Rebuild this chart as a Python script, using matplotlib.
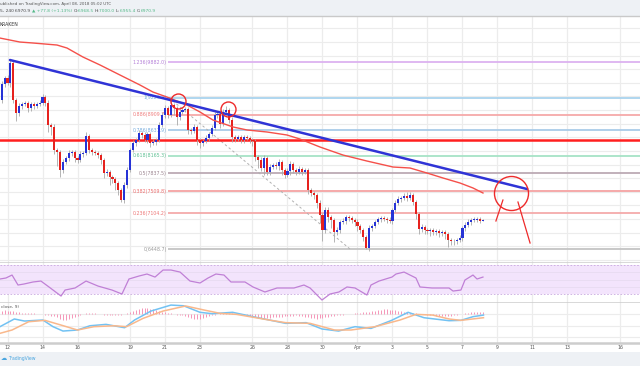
import matplotlib
matplotlib.use("Agg")
import matplotlib.pyplot as plt
import numpy as np

# ---------------- data (BTC/USD, 4H candles, Kraken) ----------------
first_bar = -2            # index of first 4H bar relative to Mar 12 00:00
first_open = 9184
closes = [9478, 9588, 9496, 9864, 9184, 8946, 9074, 9111, 9129, 9037,
          9111, 9074, 9111, 9129, 9239, 9129, 8725, 8689, 8266, 8230,
          7899, 8046, 8119, 8211, 8230, 8119, 8083, 8193, 8211, 8523,
          8266, 8230, 8211, 8174, 8083, 7844, 7862, 7771, 7734, 7660,
          7532, 7348, 7624, 7899, 8266, 8395, 8450, 8578, 8542, 8450,
          8560, 8395, 8413, 8450, 8725, 8909, 9037, 8909, 9093, 9037,
          8872, 8964, 9001, 9019, 8634, 8615, 8689, 8450, 8395, 8432,
          8487, 8560, 8670, 8909, 8927, 8744, 8964, 9001, 8817, 8505,
          8468, 8505, 8450, 8505, 8487, 8450, 8440, 8138, 8083, 7936,
          8119, 7862, 7954, 7991, 7973, 8046, 7899, 7807, 7881, 8009,
          7899, 7862, 7917, 7862, 7899, 7532, 7477, 7440, 7293, 7073,
          6797, 7165, 7036, 6981, 6761, 6797, 6944, 6963, 7036, 7018,
          6981, 6944, 6871, 6797, 6669, 6467, 6834, 6871, 6944, 6999,
          7018, 6999, 6981, 6963, 7165, 7293, 7367, 7385, 7422, 7385,
          7440, 7312, 7091, 6816, 6852, 6797, 6779, 6797, 6761, 6779,
          6742, 6761, 6724, 6614, 6595, 6590, 6614, 6650, 6834, 6889,
          6944, 6981, 6990, 6995, 6968.5, 6970.9]
wick_up = [60, 40, 50, 55, 30, 40, 50, 30, 40, 30,
           40, 30, 40, 50, 60, 30, 60, 40, 50, 40,
           30, 60, 40, 50, 40, 30, 40, 50, 40, 73,
           40, 30, 40, 30, 40, 30, 50, 40, 30, 40,
           30, 40, 60, 50, 40, 50, 40, 60, 40, 50,
           40, 30, 50, 40, 60, 50, 60, 40, 70, 40,
           30, 50, 60, 40, 30, 40, 50, 40, 30, 40,
           50, 40, 60, 50, 40, 30, 50, 70, 40, 50,
           40, 30, 40, 30, 40, 30, 40, 30, 40, 50,
           60, 40, 50, 40, 50, 60, 40, 30, 50, 60,
           40, 30, 50, 40, 30, 40, 30, 40, 30, 60,
           40, 60, 50, 40, 30, 60, 40, 50, 40, 30,
           40, 30, 50, 40, 30, 40, 50, 40, 30, 40,
           40, 30, 40, 50, 40, 60, 50, 40, 50, 70,
           60, 30, 40, 30, 50, 40, 30, 40, 30, 40,
           30, 40, 30, 40, 30, 40, 30, 50, 40, 50,
           60, 40, 50, 40, 40, 29.1]
wick_dn = [50, 60, 40, 70, 60, 150, 60, 50, 40, 80,
           50, 60, 40, 30, 40, 50, 120, 150, 80, 250,
           120, 60, 40, 50, 60, 80, 60, 40, 50, 40,
           60, 50, 40, 60, 80, 100, 60, 150, 80, 120,
           100, 40, 60, 50, 40, 30, 50, 40, 60, 40,
           50, 80, 40, 50, 30, 40, 50, 60, 40, 120,
           150, 50, 40, 30, 80, 60, 40, 100, 90, 50,
           40, 50, 40, 30, 60, 80, 40, 30, 60, 90,
           60, 40, 50, 60, 40, 50, 100, 80, 150, 60,
           120, 60, 50, 40, 60, 80, 100, 50, 40, 80,
           60, 50, 40, 60, 40, 80, 60, 70, 100, 150,
           200, 60, 100, 150, 180, 60, 50, 40, 60, 50,
           60, 80, 100, 60, 80, 20, 60, 50, 40, 30,
           50, 40, 60, 40, 50, 40, 30, 60, 40, 50,
           40, 60, 100, 90, 50, 80, 60, 100, 50, 60,
           80, 50, 100, 120, 80, 60, 50, 40, 60, 50,
           40, 50, 40, 40, 50, 13.1]

# 100-period moving average, x in days from Mar 12
ma_days = [-0.43, 0.71, 1.46, 2.83, 3.4, 4.31, 5.29, 6.43, 7.57, 8.31, 9.11,
           10.26, 11.0, 11.74, 12.89, 13.69, 14.83, 15.97, 16.71, 17.86,
           19.17, 20.54, 22.03, 23.0, 23.97, 24.89, 25.86, 26.6, 27.17]
ma_vals = [10322, 10249, 10231, 10194, 10139, 9974, 9827, 9643, 9460, 9331,
           9239, 9093, 8964, 8817, 8689, 8634, 8597, 8542, 8468, 8321, 8174,
           8064, 7954, 7936, 7844, 7752, 7660, 7569, 7477]

# bearish trend line and horizontal resistance
trend_days = [0.14, 29.69]
trend_vals = [9919, 7550]
resistance = 8445

# Fibonacci retracement
fib_ratios = [1.236, 1, 0.886, 0.786, 0.618, 0.5, 0.382, 0.236, 0]
fib_prices = [9882.0, 9226.4, 8909.7, 8631.9, 8165.3, 7837.5, 7509.8, 7104.2, 6448.7]
fib_labels = ["1.236(9882.0)", "1(9226.4)", "0.886(8909.7)", "0.786(8631.9)",
              "0.618(8165.3)", "0.5(7837.5)", "0.382(7509.8)", "0.236(7104.2)",
              "0(6448.7)"]
fib_line_colors = ["#dcb2f0", "#a9d3ee", "#f6a9a9", "#a9cbe8", "#a6e3c6",
                   "#bcaab4", "#f5a3a3", "#f5aaaa", "#c4c4c4"]
fib_text_colors = ["#b580d8", "#79b4dc", "#ef7d7d", "#79aede", "#5dbf92",
                   "#9c8590", "#ee7070", "#ee7777", "#9a9a9a"]
fib_start_day = 9.17
fib_trend_days = [9.23, 19.57]
fib_trend_vals = [9226.4, 6448.7]

# annotations (circles: day, price, size) and arrows
circle_days = [9.74, 12.6, 28.77]
circle_vals = [9166, 9019, 7477]
circle_sizes = [10.8, 10.8, 24.5]
arrow1_days = [28.31, 27.91]
arrow1_vals = [7348, 6963]
arrow2_days = [29.17, 29.86]
arrow2_vals = [7311, 6559]

# RSI(14)
rsi_days = [-0.43, -0.09, 0.26, 0.6, 0.94, 1.46, 1.91, 2.37, 3.06, 3.29, 3.86,
            4.49, 5.17, 5.97, 6.54, 6.94, 7.51, 7.97, 8.43, 8.89, 9.34, 9.86,
            10.43, 11.0, 11.46, 11.91, 12.37, 12.77, 13.57, 14.03, 14.71, 15.4,
            16.37, 16.94, 17.29, 17.97, 18.43, 18.94, 19.4, 19.86, 20.54, 20.77,
            21.23, 21.97, 22.2, 22.66, 23.34, 23.57, 24.26, 25.23, 25.46, 25.91,
            26.14, 26.6, 26.83, 27.17]
rsi_vals = [50.7, 52.1, 56.2, 42.4, 43.8, 46.6, 47.9, 39.7, 27.2, 35.5, 38.3,
            47.9, 41.0, 35.5, 30.0, 50.7, 54.8, 57.6, 53.4, 63.1, 63.1, 60.3,
            47.9, 45.2, 52.1, 57.6, 56.2, 46.6, 46.6, 39.7, 32.8, 38.3,
            38.3, 42.4, 38.3, 21.7, 30.0, 32.8, 39.7, 38.3, 28.6, 42.4,
            47.9, 53.4, 57.6, 60.3, 52.1, 39.7, 38.3, 38.3, 34.1, 35.5,
            49.3, 56.2, 50.7, 53.4]

# MACD (12, 26, close, 9)
macd_days = [-0.43, 0.39, 0.97, 2.02, 2.6, 3.17, 4.0, 4.71, 5.63, 6.69, 7.26,
             8.2, 9.34, 10.06, 11.0, 11.69, 12.86, 14.03, 15.89, 17.06, 17.97,
             18.92, 19.86, 20.77, 21.95, 22.89, 23.8, 25.23, 25.91, 26.6, 27.2]
macd_vals = [-110, -43, -61, -52, -110, -148, -139, -102, -90, -119, -52,
             26, 78, 72, 15, 3, 15, -23, -81, -75, -130,
             -148, -110, -125, -55, 15, -32, -58, -55, -23, -9]
signal_days = [-0.43, 0.26, 1.21, 2.14, 3.06, 4.0, 4.94, 6.09, 6.8, 7.74, 8.89,
               10.18, 11.23, 12.14, 13.09, 14.94, 15.89, 17.29, 18.69, 19.63,
               21.0, 22.43, 23.34, 24.29, 25.23, 25.91, 27.2]
signal_vals = [-168, -139, -67, -55, -96, -139, -110, -102, -110, -38, 26,
               70, 35, 6, -3, -52, -75, -81, -139, -139,
               -110, -52, -3, -9, -43, -55, -32]
hist_vals = [30, 32, 30, 28, 25, 20, 15,
             12, 10, 8, 6, 5, 3, 2, 0,
             -5, -10, -15, -20,
             -30, -40, -48, -50, -45, -35, -25, -15,
             -5, 3, 8, 10, 8, 5, 2,
             -3, -6, -10, -12, -12, -10, -8, -5, -2,
             8, 18, 28, 38, 45, 50, 55, 52,
             45, 40, 35, 28, 22, 15, 10,
             5, 0, -5, -8, -12,
             -20, -28, -35, -40, -42, -40, -35, -28, -20, -12, -5,
             3, 8, 10, 12, 10, 7, 3,
             0, -3, -6, -10, -15,
             -20, -25, -30, -33, -35, -35, -33, -30, -28, -25, -22, -20, -18,
             -15, -13, -12, -15, -18, -22, -28, -33, -38, -40, -38, -35, -30,
             -25, -20, -15, -12, -8,
             -5, -2, 0, 2, 5,
             8, 12, 15, 18, 22, 26, 30, 34, 37, 40, 40, 38, 35, 32, 28, 24,
             20, 16, 12,
             8, 5, 2, 0, -3,
             -6, -9, -12, -14, -16, -17, -18, -17, -15, -12, -8, -4,
             2, 7, 12, 16, 19, 21, 22, 22]

tick_days = [0, 2, 4, 7, 9, 11, 14, 16, 18, 20, 22, 24, 26, 28, 30, 32, 35]
tick_labels = ["12", "14", "16", "19", "21", "23", "26", "28", "30", "Apr",
               "3", "5", "7", "9", "11", "13", "16"]

header1 = "ublished on TradingView.com, April 08, 2018 05:02 UTC"
header2 = [("5, 240 ", "#4a4a4a"), ("6970.9 ", "#4a4a4a"),
           ("\u25b2 +77.8 (+1.13%) ", "#53b987"), ("O:", "#4a4a4a"),
           ("6968.5 ", "#53b987"), ("H:", "#4a4a4a"), ("7000.0 ", "#53b987"),
           ("L:", "#4a4a4a"), ("6955.4 ", "#53b987"), ("C:", "#4a4a4a"),
           ("6970.9", "#53b987")]

# ---------------- figure ----------------
W, H = 640, 366
fig = plt.figure(figsize=(6.4, 3.66), dpi=100)
fig.patch.set_facecolor("white")

def fy(px):
    return 1 - px / H

XMIN, XMAX = -0.4286, 36.143
GRID = "#ececec"
SEP = "#cdcdcd"

ax = fig.add_axes([0, fy(263), 1, (263 - 16) / H])
ax_rsi = fig.add_axes([0, fy(303), 1, 40 / H])
ax_macd = fig.add_axes([0, fy(343), 1, 40 / H])

for a in (ax, ax_rsi, ax_macd):
    a.set_xlim(XMIN, XMAX)
    for s in ("top", "left", "right"):
        a.spines[s].set_visible(False)
    a.spines["bottom"].set_color(SEP)
    a.spines["bottom"].set_linewidth(1.8)
    a.tick_params(left=False, labelleft=False, bottom=False, labelbottom=False)
    for d in tick_days:
        a.axvline(d, color=GRID, lw=0.9, zorder=0)

# ---- main price panel ----
ax.set_ylim(6191.7, 10727)
for p in np.arange(6250, 10751, 250):
    ax.axhline(p, color=GRID, lw=0.8, zorder=0)

for p, lab, lc, tc in zip(fib_prices, fib_labels, fib_line_colors, fib_text_colors):
    ax.hlines(p, fib_start_day, XMAX, color=lc, lw=1.3, zorder=1)
    ax.text(fib_start_day - 0.07, p, lab, ha="right", va="center",
            fontsize=3.4, color=tc, zorder=2)
ax.plot(fib_trend_days, fib_trend_vals, color="#b0b0b0", lw=0.7,
        ls=(0, (2.5, 2.5)), zorder=1)

ax.axhline(resistance, color="#ff1f1f", lw=1.8, zorder=2)

closes_a = np.array(closes, dtype=float)
opens_a = np.r_[first_open, closes_a[:-1]]
t = (np.arange(len(closes_a)) + first_bar) / 6.0
highs = np.maximum(opens_a, closes_a) + np.array(wick_up)
lows = np.minimum(opens_a, closes_a) - np.array(wick_dn)
up = closes_a >= opens_a
cols = np.where(up, "#2633d6", "#e6221e")
ax.vlines(t, lows, highs, color="#a8a8a8", lw=0.6, zorder=3)
body_h = np.maximum(np.abs(closes_a - opens_a), 12)
body_b = np.minimum(opens_a, closes_a)
ax.bar(t, body_h, bottom=body_b, width=0.12, color=cols, lw=0, zorder=4)

ax.plot(ma_days, ma_vals, color="#f5504a", lw=1.0, zorder=5)
ax.plot(trend_days, trend_vals, color="#2f33d6", lw=1.8, zorder=6,
        solid_capstyle="round")

for d, v, s in zip(circle_days, circle_vals, circle_sizes):
    ax.plot([d], [v], marker="o", ms=s, mfc="none", mec="#ee2a2a", mew=1.0,
            zorder=7)
ax.plot(arrow1_days, arrow1_vals, color="#ee2a2a", lw=0.9, zorder=7)
ax.plot(arrow2_days, arrow2_vals, color="#ee2a2a", lw=0.9, zorder=7)

fig.text(0.0, fy(24), "KRAKEN", fontsize=3.3, color="#333333", ha="left",
         va="center")

# ---- RSI panel ----
ax_rsi.set_ylim(17.6, 72.8)
ax_rsi.axhspan(30, 70, color="#f3e4fc", zorder=0.5, lw=0)
for lv in (40, 50, 60):
    ax_rsi.axhline(lv, color="#e9dcf2", lw=0.7, zorder=0.6)
for lv in (30, 70):
    ax_rsi.axhline(lv, color="#c9a8e0", lw=0.6, ls=(0, (2, 2)), zorder=0.7)
ax_rsi.plot(rsi_days, rsi_vals, color="#c080d6", lw=0.9, zorder=3)

# ---- MACD panel ----
ax_macd.set_ylim(-252, 96)
for lv in (0, -100, -200):
    ax_macd.axhline(lv, color=GRID, lw=0.8, zorder=0)
th = (np.arange(len(hist_vals)) + first_bar) / 6.0
ax_macd.vlines(th, 0, hist_vals, color="#f596b8", lw=0.7, zorder=2)
ax_macd.plot(macd_days, macd_vals, color="#72c2f3", lw=1.1, zorder=3)
ax_macd.plot(signal_days, signal_vals, color="#f9b88c", lw=1.1, zorder=3)
ax_macd.text(-0.4, 60, "close, 9)", fontsize=3.1, color="#555555",
             ha="left", va="center")

ax_macd.set_xticks(tick_days)
ax_macd.set_xticklabels(tick_labels)
ax_macd.tick_params(labelbottom=True, labelsize=3.3, labelcolor="#555555",
                    pad=1.5, length=0)

# ---- header and footer bars ----
hdr = fig.add_axes([0, fy(16), 1, 16 / H])
hdr.set_facecolor("#eef1f5")
hdr.set_xticks([]); hdr.set_yticks([])
for s in ("top", "left", "right"):
    hdr.spines[s].set_visible(False)
hdr.spines["bottom"].set_color("#c9c9c9")
hdr.spines["bottom"].set_linewidth(1.0)

fig.text(0.0, fy(4.5), header1, fontsize=2.85, color="#555555", va="center",
         ha="left")
renderer = fig.canvas.get_renderer()
xpos = 0.0
for txt, c in header2:
    tt = fig.text(xpos, fy(11), txt, fontsize=3.15, color=c, va="center",
                  ha="left")
    bb = tt.get_window_extent(renderer=renderer)
    xpos += bb.width / W

ftr = fig.add_axes([0, 0, 1, 14 / H])
ftr.set_facecolor("#eef1f5")
ftr.set_xticks([]); ftr.set_yticks([])
for s in ftr.spines.values():
    s.set_visible(False)
fig.text(0.5 / W, fy(358.5), "\u2601", fontsize=4.5, color="#4aa6e0",
         va="center", ha="left")
fig.text(8 / W, fy(358.5), "TradingView", fontsize=3.3, color="#4aa6e0",
         va="center", ha="left")

fig.savefig("out.png", dpi=100)
